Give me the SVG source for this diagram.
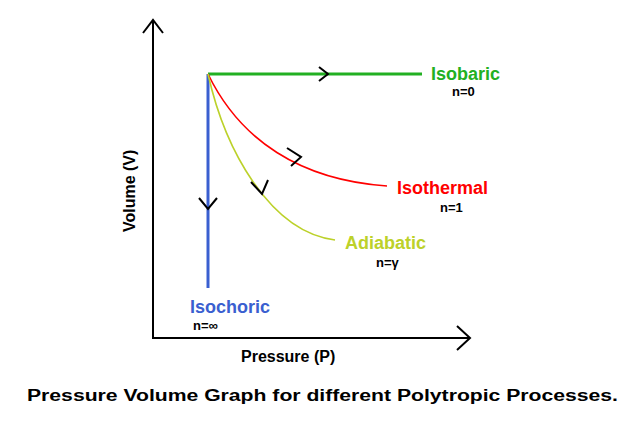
<svg xmlns="http://www.w3.org/2000/svg" width="640" height="427" viewBox="0 0 640 427">
<style>
.ax{stroke:#000;stroke-width:2;fill:none}
.chev{stroke:#000;stroke-width:2;fill:none}
.t{font-family:"Liberation Sans",Arial,sans-serif;font-weight:bold}
.lbl{font-size:18px}
.n{font-size:13px;fill:#000}
</style>
<rect width="640" height="427" fill="#fff"/>
<g id="axes">
<path class="ax" d="M153,20V338H470"/>
<path class="ax" d="M143,33L153,20L163,33"/>
<path class="ax" d="M457,326L470,338L457,350"/>
</g>
<g id="connectors">
<path d="M208,74H422" stroke="#22b022" stroke-width="3" fill="none"/>
<path d="M208,74V288" stroke="#3a5fd0" stroke-width="3" fill="none"/>
<path d="M208,74C240,140 300,180 387,186" stroke="#f00" stroke-width="1.6" fill="none"/>
<path d="M208,74C225,150 270,232 335,240" stroke="#bcd12a" stroke-width="1.6" fill="none"/>
<path class="chev" d="M319,67L328,74L319,81"/>
<path class="chev" d="M199,198L208,209L217,198"/>
<path class="chev" d="M287,148L301,157L291,166"/>
<path class="chev" d="M251,182L262,194L268,180"/>
</g>
<g id="isobaric"><text class="t lbl" x="431" y="80" fill="#22b022">Isobaric</text><text class="t n" x="452" y="96">n=0</text></g>
<g id="isothermal"><text class="t lbl" x="397" y="194" fill="#f00">Isothermal</text><text class="t n" x="440" y="212">n=1</text></g>
<g id="adiabatic"><text class="t lbl" x="345" y="249" fill="#bcd12a">Adiabatic</text><text class="t n" x="376" y="267">n=γ</text></g>
<g id="isochoric"><text class="t lbl" x="190" y="313" fill="#3a5fd0">Isochoric</text><text class="t n" x="193" y="330">n=∞</text></g>
<text class="t" font-size="16" x="0" y="0" transform="translate(135,232) rotate(-90)">Volume (V)</text>
<text class="t" font-size="16" x="241" y="362">Pressure (P)</text>
<text class="t" font-size="16" x="27" y="401" textLength="591" lengthAdjust="spacingAndGlyphs">Pressure Volume Graph for different Polytropic Processes.</text>
</svg>
